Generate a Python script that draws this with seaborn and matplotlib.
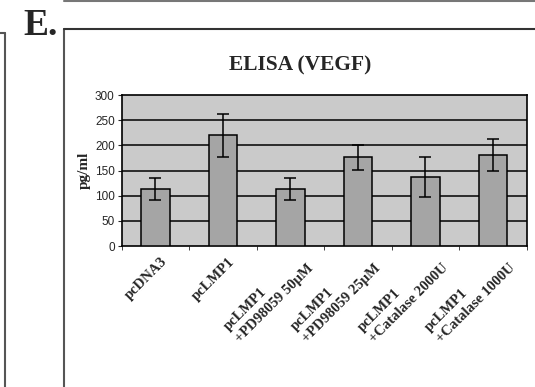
import matplotlib
matplotlib.use("Agg")
import matplotlib.pyplot as plt
import seaborn as sns
import pandas as pd
from matplotlib.lines import Line2D

# ELISA (VEGF) values
conditions = ["pcDNA3", "pcLMP1", "pcLMP1\n+PD98059 50\u00b5M", "pcLMP1\n+PD98059 25\u00b5M",
              "pcLMP1\n+Catalase 2000U", "pcLMP1\n+Catalase 1000U"]
vegf = [113, 220, 114, 176, 137, 181]
vegf_err = [22, 43, 22, 25, 40, 32]
yticks = [0, 50, 100, 150, 200, 250, 300]

df = pd.DataFrame({"cond": conditions, "vegf": vegf})

sns.set_theme(style="white")
plt.rcParams["font.family"] = ["DejaVu Sans"]

fig = plt.figure(figsize=(5.35, 3.87), dpi=100)
ax = fig.add_axes([0.2275, 0.3643, 0.757, 0.390])
ax.set_facecolor("#cacaca")

sns.barplot(data=df, x="cond", y="vegf", color="#a5a5a5", width=0.42,
            edgecolor="black", linewidth=1.1, saturation=1, errorbar=None, ax=ax, zorder=3)
ax.errorbar(range(len(vegf)), vegf, yerr=vegf_err, fmt="none", ecolor="black",
            elinewidth=1.1, capsize=4, capthick=1.1, zorder=4)

ax.set_ylim(0, 300)
ax.set_xlim(-0.5, len(vegf) - 0.5)
ax.set_yticks(yticks)
ax.set_yticklabels([str(t) for t in yticks], fontsize=8.5, family="Liberation Sans")
for t in yticks[1:-1]:
    ax.axhline(t, color="black", lw=1.1, zorder=1)

# ticks between categories
ax.set_xticks([i - 0.5 for i in range(len(vegf) + 1)], minor=False)
ax.set_xticklabels([])
ax.tick_params(axis="x", direction="out", length=3, width=0.6, bottom=True, pad=1)
ax.tick_params(axis="y", direction="out", length=3, width=0.8, left=True, pad=2)
for i, lab in enumerate(conditions):
    multi = "\n" in lab
    ax.text(i + (0.07 if multi else 0.08), -8 if multi else -18, lab, rotation=45,
            ha="right", va="top", rotation_mode="anchor", fontsize=10.5,
            fontweight="bold", family="Liberation Serif", transform=ax.transData,
            linespacing=1.3, multialignment="left")

for s in ax.spines.values():
    s.set_color("black")
    s.set_linewidth(1.2)

ax.set_xlabel("")
ax.set_ylabel("pg/ml", fontsize=11, fontweight="bold", family="Liberation Serif", labelpad=3)

fig.text(0.5617, 0.832, "ELISA (VEGF)", ha="center", va="center", fontsize=15.5,
         fontweight="bold", family="Liberation Serif")
fig.text(0.043, 0.935, "E.", ha="left", va="center", fontsize=27,
         fontweight="bold", family="Liberation Serif")

# panel frame lines
fig.add_artist(Line2D([0.1196, 0.1196], [0.0, 0.925], color="#555555", lw=1.5))
fig.add_artist(Line2D([0.1196, 1.0], [0.925, 0.925], color="#333333", lw=1.5))
fig.add_artist(Line2D([0.0093, 0.0093], [0.0, 0.915], color="#555555", lw=1.5))
fig.add_artist(Line2D([0.0, 0.0093], [0.915, 0.915], color="#555555", lw=1.5))
fig.add_artist(Line2D([0.12, 1.0], [0.997, 0.997], color="#777777", lw=1.5))

fig.savefig("out.png", dpi=100)
